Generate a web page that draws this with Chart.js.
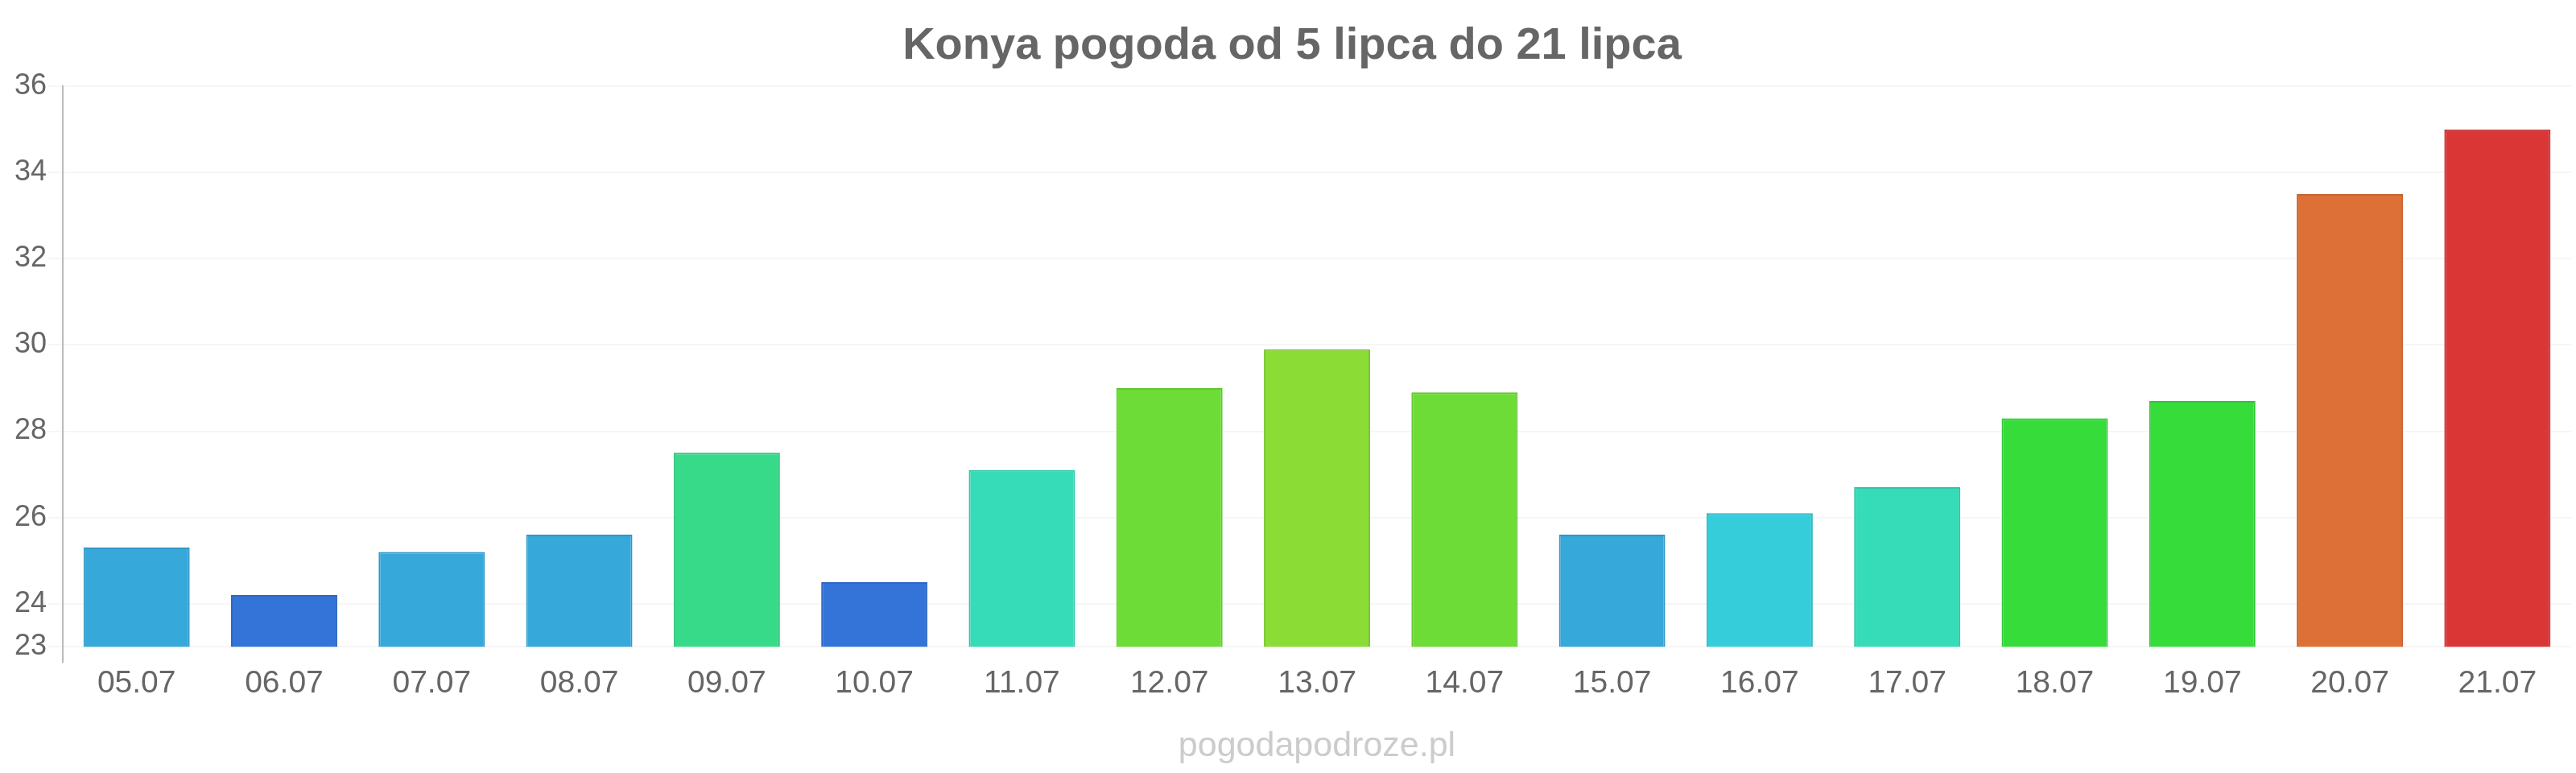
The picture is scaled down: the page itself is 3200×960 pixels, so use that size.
<!DOCTYPE html>
<html><head><meta charset="utf-8">
<script src="https://cdn.jsdelivr.net/npm/chart.js@4/dist/chart.umd.min.js"></script>
<style>html,body{margin:0;padding:0;background:#fff}canvas{display:block}</style>
</head><body>
<canvas id="c" width="3200" height="960"></canvas>
<script>
const chartTitle = 'Konya pogoda od 5 lipca do 21 lipca';
const watermark = 'pogodapodroze.pl';
const categories = ['05.07','06.07','07.07','08.07','09.07','10.07','11.07','12.07','13.07','14.07','15.07','16.07','17.07','18.07','19.07','20.07','21.07'];
const temperatures = [25.3, 24.2, 25.2, 25.6, 27.5, 24.5, 27.1, 29.0, 29.9, 28.9, 25.6, 26.1, 26.7, 28.3, 28.7, 33.5, 35.0];
const barColors = ['#36a8da','#3474d9','#36a8da','#36a8da','#36da88','#3474d9','#36dbb8','#6ddc36','#8cdc36','#6ddc36','#36a8da','#36cdda','#36dbb8','#35dc3a','#35dc3a','#dd7036','#db3636'];
const yTicks = [23, 24, 26, 28, 30, 32, 34, 36];

function darker(hex, f) {
  const n = parseInt(hex.slice(1), 16);
  const r = Math.round(((n >> 16) & 255) * f), g = Math.round(((n >> 8) & 255) * f), b = Math.round((n & 255) * f);
  return 'rgb(' + r + ',' + g + ',' + b + ')';
}
const borderColors = barColors.map(c => darker(c, 0.9));

const watermarkPlugin = {
  id: 'watermark',
  afterDraw(chart) {
    const ctx = chart.ctx;
    const area = chart.chartArea;
    ctx.save();
    ctx.fillStyle = '#cccccc';
    ctx.font = 'normal 43px "Liberation Sans", Arial, sans-serif';
    ctx.textAlign = 'center';
    ctx.textBaseline = 'middle';
    ctx.fillText(watermark, (area.left + area.right) / 2, chart.height - 33);
    ctx.restore();
  }
};

new Chart(document.getElementById('c'), {
  type: 'bar',
  data: {
    labels: categories,
    datasets: [{
      data: temperatures,
      backgroundColor: barColors,
      borderColor: borderColors,
      borderWidth: 2
    }]
  },
  plugins: [watermarkPlugin],
  options: {
    responsive: false,
    animation: false,
    devicePixelRatio: 1,
    layout: { padding: { left: 16, right: 6, top: 0, bottom: 84 } },
    plugins: {
      legend: { display: false },
      tooltip: { enabled: false },
      title: {
        display: true,
        text: chartTitle,
        color: '#666666',
        font: { family: 'Liberation Sans, Arial, sans-serif', size: 56, weight: 'bold' },
        padding: { top: 24, bottom: 16 }
      }
    },
    scales: {
      x: {
        grid: {
          display: true,
          drawOnChartArea: true,
          tickLength: 20,
          color: (ctx) => ctx.index === 0 ? '#bbbbbb' : 'rgba(0,0,0,0)',
          lineWidth: 2
        },
        border: { display: false },
        ticks: {
          color: '#666666',
          padding: 3,
          font: { family: 'Liberation Sans, Arial, sans-serif', size: 39 }
        }
      },
      y: {
        min: 23,
        max: 36,
        afterBuildTicks: (axis) => { axis.ticks = yTicks.map(v => ({ value: v })); },
        grid: {
          color: 'rgba(0,0,0,0.035)',
          lineWidth: 2,
          tickLength: 18
        },
        border: { display: true, color: '#bbbbbb', width: 2 },
        ticks: {
          color: '#666666',
          padding: 2,
          font: { family: 'Liberation Sans, Arial, sans-serif', size: 36 }
        }
      }
    }
  }
});
</script>
</body></html>
